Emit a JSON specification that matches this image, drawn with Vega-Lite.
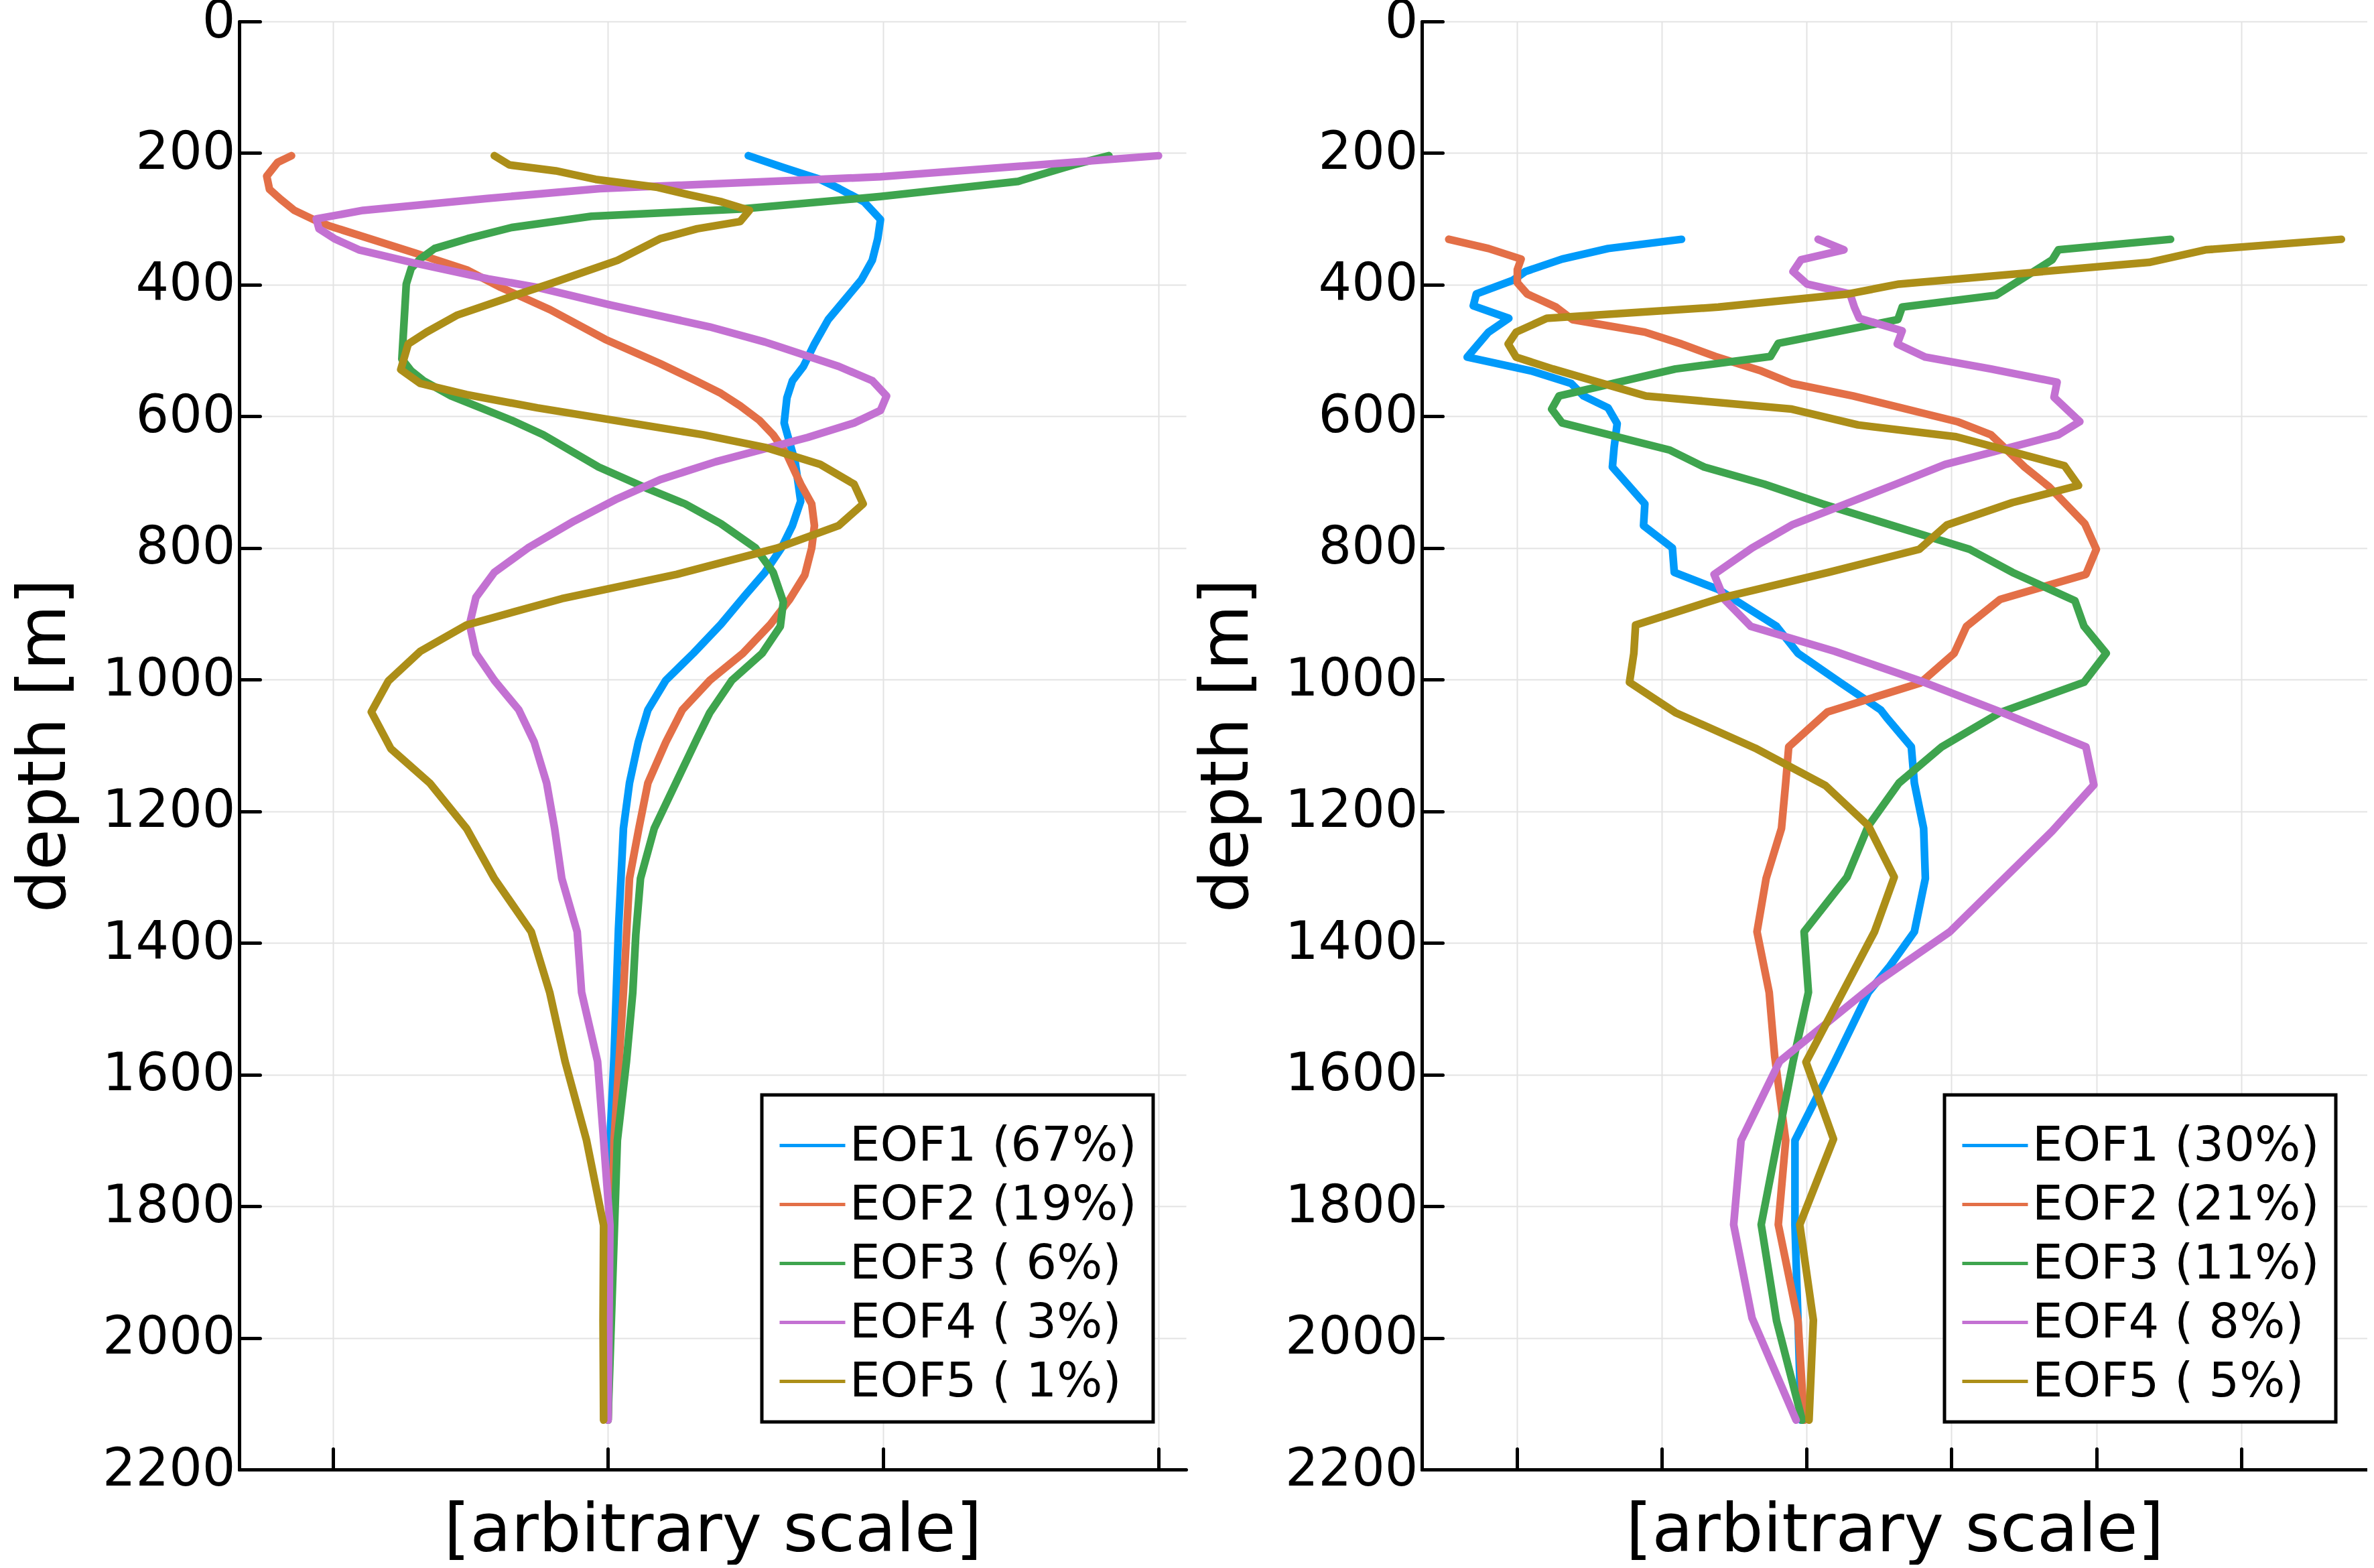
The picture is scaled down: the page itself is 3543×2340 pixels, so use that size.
{
  "$schema": "https://vega.github.io/schema/vega-lite/v6.json",
  "padding": {"left": 16, "top": -7, "right": 0, "bottom": 0},
  "config": {
    "font": "DejaVu Sans",
    "view": {"stroke": null},
    "axis": {
      "domainColor": "black", "domainWidth": 5, "domainCap": "round",
      "tickColor": "black", "tickWidth": 5, "tickSize": -31, "tickCap": "round",
      "gridColor": "#e3e3e3", "gridWidth": 2,
      "labelFont": "DejaVu Sans", "labelFontSize": 78, "labelColor": "black", "labelPadding": 37, "labelLimit": 500,
      "titleFont": "DejaVu Sans", "titleFontSize": 100, "titleFontWeight": "normal", "titleColor": "black"
    },
    "legend": {
      "orient": "none", "legendX": 780, "legendY": 1602,
      "strokeColor": "black", "strokeWidth": 5, "fillColor": "white", "cornerRadius": 0,
      "padding": 24, "symbolType": "stroke", "symbolSize": 9604, "symbolStrokeWidth": 5,
      "labelFont": "DejaVu Sans", "labelFontSize": 72, "labelColor": "black", "labelOffset": 4,
      "rowPadding": -22, "labelLimit": 800
    }
  },
  "datasets": {
    "eof": [
      {"p": "L", "s": "EOF1 (67%)", "v": 0.51, "d": 204},
      {"p": "L", "s": "EOF1 (67%)", "v": 0.637, "d": 222},
      {"p": "L", "s": "EOF1 (67%)", "v": 0.771, "d": 240},
      {"p": "L", "s": "EOF1 (67%)", "v": 0.84, "d": 254},
      {"p": "L", "s": "EOF1 (67%)", "v": 0.93, "d": 274},
      {"p": "L", "s": "EOF1 (67%)", "v": 0.99, "d": 301},
      {"p": "L", "s": "EOF1 (67%)", "v": 0.98, "d": 330},
      {"p": "L", "s": "EOF1 (67%)", "v": 0.96, "d": 363},
      {"p": "L", "s": "EOF1 (67%)", "v": 0.92, "d": 393},
      {"p": "L", "s": "EOF1 (67%)", "v": 0.86, "d": 423},
      {"p": "L", "s": "EOF1 (67%)", "v": 0.80, "d": 453},
      {"p": "L", "s": "EOF1 (67%)", "v": 0.75, "d": 490},
      {"p": "L", "s": "EOF1 (67%)", "v": 0.71, "d": 524},
      {"p": "L", "s": "EOF1 (67%)", "v": 0.67, "d": 546},
      {"p": "L", "s": "EOF1 (67%)", "v": 0.65, "d": 572},
      {"p": "L", "s": "EOF1 (67%)", "v": 0.64, "d": 610},
      {"p": "L", "s": "EOF1 (67%)", "v": 0.66, "d": 640},
      {"p": "L", "s": "EOF1 (67%)", "v": 0.68, "d": 669},
      {"p": "L", "s": "EOF1 (67%)", "v": 0.70, "d": 729},
      {"p": "L", "s": "EOF1 (67%)", "v": 0.67, "d": 766},
      {"p": "L", "s": "EOF1 (67%)", "v": 0.63, "d": 800},
      {"p": "L", "s": "EOF1 (67%)", "v": 0.57, "d": 837},
      {"p": "L", "s": "EOF1 (67%)", "v": 0.50, "d": 871},
      {"p": "L", "s": "EOF1 (67%)", "v": 0.41, "d": 916},
      {"p": "L", "s": "EOF1 (67%)", "v": 0.31, "d": 960},
      {"p": "L", "s": "EOF1 (67%)", "v": 0.21, "d": 1001},
      {"p": "L", "s": "EOF1 (67%)", "v": 0.145, "d": 1046},
      {"p": "L", "s": "EOF1 (67%)", "v": 0.11, "d": 1095},
      {"p": "L", "s": "EOF1 (67%)", "v": 0.078, "d": 1157},
      {"p": "L", "s": "EOF1 (67%)", "v": 0.056, "d": 1226},
      {"p": "L", "s": "EOF1 (67%)", "v": 0.038, "d": 1379},
      {"p": "L", "s": "EOF1 (67%)", "v": 0.022, "d": 1572},
      {"p": "L", "s": "EOF1 (67%)", "v": 0.007, "d": 1700},
      {"p": "L", "s": "EOF1 (67%)", "v": 0.0, "d": 2125},

      {"p": "L", "s": "EOF2 (19%)", "v": -1.15, "d": 204},
      {"p": "L", "s": "EOF2 (19%)", "v": -1.20, "d": 214},
      {"p": "L", "s": "EOF2 (19%)", "v": -1.24, "d": 235},
      {"p": "L", "s": "EOF2 (19%)", "v": -1.23, "d": 255},
      {"p": "L", "s": "EOF2 (19%)", "v": -1.19, "d": 270},
      {"p": "L", "s": "EOF2 (19%)", "v": -1.14, "d": 287},
      {"p": "L", "s": "EOF2 (19%)", "v": -1.07, "d": 301},
      {"p": "L", "s": "EOF2 (19%)", "v": -1.01, "d": 311},
      {"p": "L", "s": "EOF2 (19%)", "v": -0.70, "d": 352},
      {"p": "L", "s": "EOF2 (19%)", "v": -0.51, "d": 378},
      {"p": "L", "s": "EOF2 (19%)", "v": -0.39, "d": 404},
      {"p": "L", "s": "EOF2 (19%)", "v": -0.21, "d": 438},
      {"p": "L", "s": "EOF2 (19%)", "v": -0.01, "d": 483},
      {"p": "L", "s": "EOF2 (19%)", "v": 0.19, "d": 520},
      {"p": "L", "s": "EOF2 (19%)", "v": 0.32, "d": 546},
      {"p": "L", "s": "EOF2 (19%)", "v": 0.41, "d": 565},
      {"p": "L", "s": "EOF2 (19%)", "v": 0.48, "d": 584},
      {"p": "L", "s": "EOF2 (19%)", "v": 0.55, "d": 606},
      {"p": "L", "s": "EOF2 (19%)", "v": 0.60, "d": 628},
      {"p": "L", "s": "EOF2 (19%)", "v": 0.65, "d": 658},
      {"p": "L", "s": "EOF2 (19%)", "v": 0.70, "d": 703},
      {"p": "L", "s": "EOF2 (19%)", "v": 0.74, "d": 733},
      {"p": "L", "s": "EOF2 (19%)", "v": 0.75, "d": 766},
      {"p": "L", "s": "EOF2 (19%)", "v": 0.74, "d": 800},
      {"p": "L", "s": "EOF2 (19%)", "v": 0.715, "d": 841},
      {"p": "L", "s": "EOF2 (19%)", "v": 0.66, "d": 878},
      {"p": "L", "s": "EOF2 (19%)", "v": 0.59, "d": 916},
      {"p": "L", "s": "EOF2 (19%)", "v": 0.49, "d": 960},
      {"p": "L", "s": "EOF2 (19%)", "v": 0.37, "d": 1001},
      {"p": "L", "s": "EOF2 (19%)", "v": 0.27, "d": 1046},
      {"p": "L", "s": "EOF2 (19%)", "v": 0.21, "d": 1095},
      {"p": "L", "s": "EOF2 (19%)", "v": 0.145, "d": 1157},
      {"p": "L", "s": "EOF2 (19%)", "v": 0.112, "d": 1226},
      {"p": "L", "s": "EOF2 (19%)", "v": 0.078, "d": 1302},
      {"p": "L", "s": "EOF2 (19%)", "v": 0.056, "d": 1475},
      {"p": "L", "s": "EOF2 (19%)", "v": 0.022, "d": 1700},
      {"p": "L", "s": "EOF2 (19%)", "v": 0.0, "d": 2125},

      {"p": "L", "s": "EOF3 ( 6%)", "v": 1.82, "d": 204},
      {"p": "L", "s": "EOF3 ( 6%)", "v": 1.69, "d": 218},
      {"p": "L", "s": "EOF3 ( 6%)", "v": 1.49, "d": 243},
      {"p": "L", "s": "EOF3 ( 6%)", "v": 0.99, "d": 266},
      {"p": "L", "s": "EOF3 ( 6%)", "v": 0.48, "d": 285},
      {"p": "L", "s": "EOF3 ( 6%)", "v": -0.06, "d": 296},
      {"p": "L", "s": "EOF3 ( 6%)", "v": -0.35, "d": 313},
      {"p": "L", "s": "EOF3 ( 6%)", "v": -0.51, "d": 330},
      {"p": "L", "s": "EOF3 ( 6%)", "v": -0.63, "d": 345},
      {"p": "L", "s": "EOF3 ( 6%)", "v": -0.68, "d": 360},
      {"p": "L", "s": "EOF3 ( 6%)", "v": -0.715, "d": 375},
      {"p": "L", "s": "EOF3 ( 6%)", "v": -0.733, "d": 399},
      {"p": "L", "s": "EOF3 ( 6%)", "v": -0.749, "d": 513},
      {"p": "L", "s": "EOF3 ( 6%)", "v": -0.715, "d": 531},
      {"p": "L", "s": "EOF3 ( 6%)", "v": -0.67, "d": 546},
      {"p": "L", "s": "EOF3 ( 6%)", "v": -0.57, "d": 569},
      {"p": "L", "s": "EOF3 ( 6%)", "v": -0.35, "d": 606},
      {"p": "L", "s": "EOF3 ( 6%)", "v": -0.235, "d": 628},
      {"p": "L", "s": "EOF3 ( 6%)", "v": -0.034, "d": 677},
      {"p": "L", "s": "EOF3 ( 6%)", "v": 0.145, "d": 710},
      {"p": "L", "s": "EOF3 ( 6%)", "v": 0.28, "d": 733},
      {"p": "L", "s": "EOF3 ( 6%)", "v": 0.41, "d": 763},
      {"p": "L", "s": "EOF3 ( 6%)", "v": 0.536, "d": 800},
      {"p": "L", "s": "EOF3 ( 6%)", "v": 0.60, "d": 837},
      {"p": "L", "s": "EOF3 ( 6%)", "v": 0.637, "d": 882},
      {"p": "L", "s": "EOF3 ( 6%)", "v": 0.626, "d": 919},
      {"p": "L", "s": "EOF3 ( 6%)", "v": 0.56, "d": 960},
      {"p": "L", "s": "EOF3 ( 6%)", "v": 0.45, "d": 1001},
      {"p": "L", "s": "EOF3 ( 6%)", "v": 0.37, "d": 1050},
      {"p": "L", "s": "EOF3 ( 6%)", "v": 0.324, "d": 1089},
      {"p": "L", "s": "EOF3 ( 6%)", "v": 0.168, "d": 1226},
      {"p": "L", "s": "EOF3 ( 6%)", "v": 0.118, "d": 1302},
      {"p": "L", "s": "EOF3 ( 6%)", "v": 0.101, "d": 1387},
      {"p": "L", "s": "EOF3 ( 6%)", "v": 0.09, "d": 1475},
      {"p": "L", "s": "EOF3 ( 6%)", "v": 0.067, "d": 1580},
      {"p": "L", "s": "EOF3 ( 6%)", "v": 0.034, "d": 1700},
      {"p": "L", "s": "EOF3 ( 6%)", "v": 0.0, "d": 2125},

      {"p": "L", "s": "EOF4 ( 3%)", "v": 2.0, "d": 204},
      {"p": "L", "s": "EOF4 ( 3%)", "v": 0.99, "d": 236},
      {"p": "L", "s": "EOF4 ( 3%)", "v": -0.03, "d": 254},
      {"p": "L", "s": "EOF4 ( 3%)", "v": -0.44, "d": 269},
      {"p": "L", "s": "EOF4 ( 3%)", "v": -0.89, "d": 287},
      {"p": "L", "s": "EOF4 ( 3%)", "v": -1.06, "d": 300},
      {"p": "L", "s": "EOF4 ( 3%)", "v": -1.05, "d": 315},
      {"p": "L", "s": "EOF4 ( 3%)", "v": -0.994, "d": 330},
      {"p": "L", "s": "EOF4 ( 3%)", "v": -0.905, "d": 347},
      {"p": "L", "s": "EOF4 ( 3%)", "v": -0.704, "d": 367},
      {"p": "L", "s": "EOF4 ( 3%)", "v": -0.436, "d": 391},
      {"p": "L", "s": "EOF4 ( 3%)", "v": -0.257, "d": 404},
      {"p": "L", "s": "EOF4 ( 3%)", "v": 0.011, "d": 431},
      {"p": "L", "s": "EOF4 ( 3%)", "v": 0.369, "d": 464},
      {"p": "L", "s": "EOF4 ( 3%)", "v": 0.57, "d": 487},
      {"p": "L", "s": "EOF4 ( 3%)", "v": 0.838, "d": 524},
      {"p": "L", "s": "EOF4 ( 3%)", "v": 0.961, "d": 546},
      {"p": "L", "s": "EOF4 ( 3%)", "v": 1.012, "d": 569},
      {"p": "L", "s": "EOF4 ( 3%)", "v": 0.99, "d": 591},
      {"p": "L", "s": "EOF4 ( 3%)", "v": 0.894, "d": 610},
      {"p": "L", "s": "EOF4 ( 3%)", "v": 0.726, "d": 632},
      {"p": "L", "s": "EOF4 ( 3%)", "v": 0.391, "d": 669},
      {"p": "L", "s": "EOF4 ( 3%)", "v": 0.19, "d": 696},
      {"p": "L", "s": "EOF4 ( 3%)", "v": 0.034, "d": 725},
      {"p": "L", "s": "EOF4 ( 3%)", "v": -0.123, "d": 759},
      {"p": "L", "s": "EOF4 ( 3%)", "v": -0.291, "d": 800},
      {"p": "L", "s": "EOF4 ( 3%)", "v": -0.413, "d": 837},
      {"p": "L", "s": "EOF4 ( 3%)", "v": -0.48, "d": 875},
      {"p": "L", "s": "EOF4 ( 3%)", "v": -0.503, "d": 916},
      {"p": "L", "s": "EOF4 ( 3%)", "v": -0.48, "d": 960},
      {"p": "L", "s": "EOF4 ( 3%)", "v": -0.413, "d": 1001},
      {"p": "L", "s": "EOF4 ( 3%)", "v": -0.324, "d": 1046},
      {"p": "L", "s": "EOF4 ( 3%)", "v": -0.268, "d": 1095},
      {"p": "L", "s": "EOF4 ( 3%)", "v": -0.223, "d": 1157},
      {"p": "L", "s": "EOF4 ( 3%)", "v": -0.194, "d": 1226},
      {"p": "L", "s": "EOF4 ( 3%)", "v": -0.168, "d": 1302},
      {"p": "L", "s": "EOF4 ( 3%)", "v": -0.112, "d": 1383},
      {"p": "L", "s": "EOF4 ( 3%)", "v": -0.096, "d": 1475},
      {"p": "L", "s": "EOF4 ( 3%)", "v": -0.038, "d": 1580},
      {"p": "L", "s": "EOF4 ( 3%)", "v": -0.016, "d": 1700},
      {"p": "L", "s": "EOF4 ( 3%)", "v": 0.007, "d": 1829},
      {"p": "L", "s": "EOF4 ( 3%)", "v": 0.0, "d": 2125},

      {"p": "L", "s": "EOF5 ( 1%)", "v": -0.413, "d": 204},
      {"p": "L", "s": "EOF5 ( 1%)", "v": -0.358, "d": 218},
      {"p": "L", "s": "EOF5 ( 1%)", "v": -0.19, "d": 227},
      {"p": "L", "s": "EOF5 ( 1%)", "v": -0.045, "d": 240},
      {"p": "L", "s": "EOF5 ( 1%)", "v": 0.18, "d": 252},
      {"p": "L", "s": "EOF5 ( 1%)", "v": 0.291, "d": 263},
      {"p": "L", "s": "EOF5 ( 1%)", "v": 0.413, "d": 274},
      {"p": "L", "s": "EOF5 ( 1%)", "v": 0.514, "d": 287},
      {"p": "L", "s": "EOF5 ( 1%)", "v": 0.48, "d": 304},
      {"p": "L", "s": "EOF5 ( 1%)", "v": 0.324, "d": 315},
      {"p": "L", "s": "EOF5 ( 1%)", "v": 0.19, "d": 330},
      {"p": "L", "s": "EOF5 ( 1%)", "v": 0.034, "d": 363},
      {"p": "L", "s": "EOF5 ( 1%)", "v": -0.2, "d": 397},
      {"p": "L", "s": "EOF5 ( 1%)", "v": -0.33, "d": 415},
      {"p": "L", "s": "EOF5 ( 1%)", "v": -0.547, "d": 446},
      {"p": "L", "s": "EOF5 ( 1%)", "v": -0.659, "d": 472},
      {"p": "L", "s": "EOF5 ( 1%)", "v": -0.726, "d": 490},
      {"p": "L", "s": "EOF5 ( 1%)", "v": -0.753, "d": 529},
      {"p": "L", "s": "EOF5 ( 1%)", "v": -0.682, "d": 550},
      {"p": "L", "s": "EOF5 ( 1%)", "v": -0.514, "d": 567},
      {"p": "L", "s": "EOF5 ( 1%)", "v": -0.257, "d": 587},
      {"p": "L", "s": "EOF5 ( 1%)", "v": 0.346, "d": 628},
      {"p": "L", "s": "EOF5 ( 1%)", "v": 0.57, "d": 647},
      {"p": "L", "s": "EOF5 ( 1%)", "v": 0.771, "d": 673},
      {"p": "L", "s": "EOF5 ( 1%)", "v": 0.894, "d": 703},
      {"p": "L", "s": "EOF5 ( 1%)", "v": 0.927, "d": 733},
      {"p": "L", "s": "EOF5 ( 1%)", "v": 0.838, "d": 766},
      {"p": "L", "s": "EOF5 ( 1%)", "v": 0.615, "d": 800},
      {"p": "L", "s": "EOF5 ( 1%)", "v": 0.25, "d": 840},
      {"p": "L", "s": "EOF5 ( 1%)", "v": -0.168, "d": 877},
      {"p": "L", "s": "EOF5 ( 1%)", "v": -0.514, "d": 917},
      {"p": "L", "s": "EOF5 ( 1%)", "v": -0.682, "d": 957},
      {"p": "L", "s": "EOF5 ( 1%)", "v": -0.798, "d": 1002},
      {"p": "L", "s": "EOF5 ( 1%)", "v": -0.86, "d": 1049},
      {"p": "L", "s": "EOF5 ( 1%)", "v": -0.789, "d": 1105},
      {"p": "L", "s": "EOF5 ( 1%)", "v": -0.648, "d": 1157},
      {"p": "L", "s": "EOF5 ( 1%)", "v": -0.514, "d": 1226},
      {"p": "L", "s": "EOF5 ( 1%)", "v": -0.413, "d": 1302},
      {"p": "L", "s": "EOF5 ( 1%)", "v": -0.279, "d": 1383},
      {"p": "L", "s": "EOF5 ( 1%)", "v": -0.212, "d": 1475},
      {"p": "L", "s": "EOF5 ( 1%)", "v": -0.156, "d": 1580},
      {"p": "L", "s": "EOF5 ( 1%)", "v": -0.078, "d": 1700},
      {"p": "L", "s": "EOF5 ( 1%)", "v": -0.016, "d": 1829},
      {"p": "L", "s": "EOF5 ( 1%)", "v": -0.018, "d": 1974},
      {"p": "L", "s": "EOF5 ( 1%)", "v": -0.016, "d": 2125},

      {"p": "R", "s": "EOF1 (30%)", "v": -0.863, "d": 331},
      {"p": "R", "s": "EOF1 (30%)", "v": -1.37, "d": 345},
      {"p": "R", "s": "EOF1 (30%)", "v": -1.687, "d": 361},
      {"p": "R", "s": "EOF1 (30%)", "v": -1.941, "d": 380},
      {"p": "R", "s": "EOF1 (30%)", "v": -2.025, "d": 393},
      {"p": "R", "s": "EOF1 (30%)", "v": -2.279, "d": 414},
      {"p": "R", "s": "EOF1 (30%)", "v": -2.30, "d": 432},
      {"p": "R", "s": "EOF1 (30%)", "v": -2.055, "d": 451},
      {"p": "R", "s": "EOF1 (30%)", "v": -2.195, "d": 472},
      {"p": "R", "s": "EOF1 (30%)", "v": -2.342, "d": 510},
      {"p": "R", "s": "EOF1 (30%)", "v": -1.899, "d": 531},
      {"p": "R", "s": "EOF1 (30%)", "v": -1.624, "d": 550},
      {"p": "R", "s": "EOF1 (30%)", "v": -1.539, "d": 569},
      {"p": "R", "s": "EOF1 (30%)", "v": -1.37, "d": 587},
      {"p": "R", "s": "EOF1 (30%)", "v": -1.307, "d": 611},
      {"p": "R", "s": "EOF1 (30%)", "v": -1.328, "d": 647},
      {"p": "R", "s": "EOF1 (30%)", "v": -1.34, "d": 677},
      {"p": "R", "s": "EOF1 (30%)", "v": -1.116, "d": 733},
      {"p": "R", "s": "EOF1 (30%)", "v": -1.125, "d": 766},
      {"p": "R", "s": "EOF1 (30%)", "v": -0.926, "d": 800},
      {"p": "R", "s": "EOF1 (30%)", "v": -0.913, "d": 837},
      {"p": "R", "s": "EOF1 (30%)", "v": -0.609, "d": 863},
      {"p": "R", "s": "EOF1 (30%)", "v": -0.207, "d": 919},
      {"p": "R", "s": "EOF1 (30%)", "v": -0.059, "d": 960},
      {"p": "R", "s": "EOF1 (30%)", "v": 0.237, "d": 1005},
      {"p": "R", "s": "EOF1 (30%)", "v": 0.512, "d": 1046},
      {"p": "R", "s": "EOF1 (30%)", "v": 0.554, "d": 1058},
      {"p": "R", "s": "EOF1 (30%)", "v": 0.723, "d": 1102},
      {"p": "R", "s": "EOF1 (30%)", "v": 0.744, "d": 1157},
      {"p": "R", "s": "EOF1 (30%)", "v": 0.808, "d": 1226},
      {"p": "R", "s": "EOF1 (30%)", "v": 0.82, "d": 1302},
      {"p": "R", "s": "EOF1 (30%)", "v": 0.744, "d": 1383},
      {"p": "R", "s": "EOF1 (30%)", "v": 0.575, "d": 1435},
      {"p": "R", "s": "EOF1 (30%)", "v": 0.427, "d": 1475},
      {"p": "R", "s": "EOF1 (30%)", "v": 0.195, "d": 1580},
      {"p": "R", "s": "EOF1 (30%)", "v": -0.08, "d": 1700},
      {"p": "R", "s": "EOF1 (30%)", "v": -0.08, "d": 1829},
      {"p": "R", "s": "EOF1 (30%)", "v": -0.059, "d": 1974},
      {"p": "R", "s": "EOF1 (30%)", "v": -0.038, "d": 2125},

      {"p": "R", "s": "EOF2 (21%)", "v": -2.469, "d": 331},
      {"p": "R", "s": "EOF2 (21%)", "v": -2.195, "d": 345},
      {"p": "R", "s": "EOF2 (21%)", "v": -1.97, "d": 361},
      {"p": "R", "s": "EOF2 (21%)", "v": -1.996, "d": 377},
      {"p": "R", "s": "EOF2 (21%)", "v": -1.996, "d": 397},
      {"p": "R", "s": "EOF2 (21%)", "v": -1.928, "d": 414},
      {"p": "R", "s": "EOF2 (21%)", "v": -1.729, "d": 434},
      {"p": "R", "s": "EOF2 (21%)", "v": -1.615, "d": 453},
      {"p": "R", "s": "EOF2 (21%)", "v": -1.116, "d": 472},
      {"p": "R", "s": "EOF2 (21%)", "v": -0.863, "d": 490},
      {"p": "R", "s": "EOF2 (21%)", "v": -0.63, "d": 509},
      {"p": "R", "s": "EOF2 (21%)", "v": -0.313, "d": 531},
      {"p": "R", "s": "EOF2 (21%)", "v": -0.101, "d": 550},
      {"p": "R", "s": "EOF2 (21%)", "v": 0.321, "d": 569},
      {"p": "R", "s": "EOF2 (21%)", "v": 1.04, "d": 608},
      {"p": "R", "s": "EOF2 (21%)", "v": 1.273, "d": 628},
      {"p": "R", "s": "EOF2 (21%)", "v": 1.505, "d": 677},
      {"p": "R", "s": "EOF2 (21%)", "v": 1.674, "d": 707},
      {"p": "R", "s": "EOF2 (21%)", "v": 1.92, "d": 763},
      {"p": "R", "s": "EOF2 (21%)", "v": 2.0, "d": 802},
      {"p": "R", "s": "EOF2 (21%)", "v": 1.928, "d": 840},
      {"p": "R", "s": "EOF2 (21%)", "v": 1.336, "d": 878},
      {"p": "R", "s": "EOF2 (21%)", "v": 1.104, "d": 919},
      {"p": "R", "s": "EOF2 (21%)", "v": 1.019, "d": 960},
      {"p": "R", "s": "EOF2 (21%)", "v": 0.786, "d": 1005},
      {"p": "R", "s": "EOF2 (21%)", "v": 0.144, "d": 1049},
      {"p": "R", "s": "EOF2 (21%)", "v": -0.123, "d": 1102},
      {"p": "R", "s": "EOF2 (21%)", "v": -0.144, "d": 1157},
      {"p": "R", "s": "EOF2 (21%)", "v": -0.173, "d": 1226},
      {"p": "R", "s": "EOF2 (21%)", "v": -0.279, "d": 1302},
      {"p": "R", "s": "EOF2 (21%)", "v": -0.342, "d": 1383},
      {"p": "R", "s": "EOF2 (21%)", "v": -0.258, "d": 1475},
      {"p": "R", "s": "EOF2 (21%)", "v": -0.22, "d": 1572},
      {"p": "R", "s": "EOF2 (21%)", "v": -0.144, "d": 1700},
      {"p": "R", "s": "EOF2 (21%)", "v": -0.195, "d": 1828},
      {"p": "R", "s": "EOF2 (21%)", "v": -0.059, "d": 1974},
      {"p": "R", "s": "EOF2 (21%)", "v": -0.017, "d": 2125},

      {"p": "R", "s": "EOF3 (11%)", "v": 2.512, "d": 331},
      {"p": "R", "s": "EOF3 (11%)", "v": 1.738, "d": 347},
      {"p": "R", "s": "EOF3 (11%)", "v": 1.696, "d": 362},
      {"p": "R", "s": "EOF3 (11%)", "v": 1.307, "d": 416},
      {"p": "R", "s": "EOF3 (11%)", "v": 0.66, "d": 434},
      {"p": "R", "s": "EOF3 (11%)", "v": 0.63, "d": 453},
      {"p": "R", "s": "EOF3 (11%)", "v": 0.195, "d": 472},
      {"p": "R", "s": "EOF3 (11%)", "v": -0.195, "d": 489},
      {"p": "R", "s": "EOF3 (11%)", "v": -0.249, "d": 509},
      {"p": "R", "s": "EOF3 (11%)", "v": -0.905, "d": 528},
      {"p": "R", "s": "EOF3 (11%)", "v": -1.708, "d": 569},
      {"p": "R", "s": "EOF3 (11%)", "v": -1.759, "d": 589},
      {"p": "R", "s": "EOF3 (11%)", "v": -1.687, "d": 610},
      {"p": "R", "s": "EOF3 (11%)", "v": -0.947, "d": 651},
      {"p": "R", "s": "EOF3 (11%)", "v": -0.706, "d": 677},
      {"p": "R", "s": "EOF3 (11%)", "v": -0.292, "d": 703},
      {"p": "R", "s": "EOF3 (11%)", "v": 0.11, "d": 733},
      {"p": "R", "s": "EOF3 (11%)", "v": 1.125, "d": 802},
      {"p": "R", "s": "EOF3 (11%)", "v": 1.421, "d": 837},
      {"p": "R", "s": "EOF3 (11%)", "v": 1.852, "d": 880},
      {"p": "R", "s": "EOF3 (11%)", "v": 1.915, "d": 919},
      {"p": "R", "s": "EOF3 (11%)", "v": 2.068, "d": 960},
      {"p": "R", "s": "EOF3 (11%)", "v": 1.915, "d": 1004},
      {"p": "R", "s": "EOF3 (11%)", "v": 1.336, "d": 1050},
      {"p": "R", "s": "EOF3 (11%)", "v": 0.934, "d": 1102},
      {"p": "R", "s": "EOF3 (11%)", "v": 0.638, "d": 1157},
      {"p": "R", "s": "EOF3 (11%)", "v": 0.427, "d": 1222},
      {"p": "R", "s": "EOF3 (11%)", "v": 0.279, "d": 1300},
      {"p": "R", "s": "EOF3 (11%)", "v": -0.017, "d": 1383},
      {"p": "R", "s": "EOF3 (11%)", "v": 0.013, "d": 1475},
      {"p": "R", "s": "EOF3 (11%)", "v": -0.093, "d": 1580},
      {"p": "R", "s": "EOF3 (11%)", "v": -0.2, "d": 1700},
      {"p": "R", "s": "EOF3 (11%)", "v": -0.313, "d": 1828},
      {"p": "R", "s": "EOF3 (11%)", "v": -0.207, "d": 1974},
      {"p": "R", "s": "EOF3 (11%)", "v": -0.03, "d": 2125},

      {"p": "R", "s": "EOF4 ( 8%)", "v": 0.08, "d": 331},
      {"p": "R", "s": "EOF4 ( 8%)", "v": 0.258, "d": 347},
      {"p": "R", "s": "EOF4 ( 8%)", "v": -0.038, "d": 362},
      {"p": "R", "s": "EOF4 ( 8%)", "v": -0.093, "d": 380},
      {"p": "R", "s": "EOF4 ( 8%)", "v": 0.004, "d": 399},
      {"p": "R", "s": "EOF4 ( 8%)", "v": 0.3, "d": 414},
      {"p": "R", "s": "EOF4 ( 8%)", "v": 0.33, "d": 434},
      {"p": "R", "s": "EOF4 ( 8%)", "v": 0.364, "d": 451},
      {"p": "R", "s": "EOF4 ( 8%)", "v": 0.66, "d": 470},
      {"p": "R", "s": "EOF4 ( 8%)", "v": 0.626, "d": 490},
      {"p": "R", "s": "EOF4 ( 8%)", "v": 0.82, "d": 510},
      {"p": "R", "s": "EOF4 ( 8%)", "v": 1.273, "d": 528},
      {"p": "R", "s": "EOF4 ( 8%)", "v": 1.729, "d": 548},
      {"p": "R", "s": "EOF4 ( 8%)", "v": 1.708, "d": 571},
      {"p": "R", "s": "EOF4 ( 8%)", "v": 1.886, "d": 608},
      {"p": "R", "s": "EOF4 ( 8%)", "v": 1.738, "d": 628},
      {"p": "R", "s": "EOF4 ( 8%)", "v": 0.956, "d": 673},
      {"p": "R", "s": "EOF4 ( 8%)", "v": 0.617, "d": 703},
      {"p": "R", "s": "EOF4 ( 8%)", "v": 0.27, "d": 733},
      {"p": "R", "s": "EOF4 ( 8%)", "v": -0.101, "d": 765},
      {"p": "R", "s": "EOF4 ( 8%)", "v": -0.376, "d": 800},
      {"p": "R", "s": "EOF4 ( 8%)", "v": -0.638, "d": 840},
      {"p": "R", "s": "EOF4 ( 8%)", "v": -0.567, "d": 878},
      {"p": "R", "s": "EOF4 ( 8%)", "v": -0.385, "d": 919},
      {"p": "R", "s": "EOF4 ( 8%)", "v": 0.195, "d": 957},
      {"p": "R", "s": "EOF4 ( 8%)", "v": 0.786, "d": 1002},
      {"p": "R", "s": "EOF4 ( 8%)", "v": 1.35, "d": 1050},
      {"p": "R", "s": "EOF4 ( 8%)", "v": 1.928, "d": 1102},
      {"p": "R", "s": "EOF4 ( 8%)", "v": 1.983, "d": 1160},
      {"p": "R", "s": "EOF4 ( 8%)", "v": 1.696, "d": 1230},
      {"p": "R", "s": "EOF4 ( 8%)", "v": 0.989, "d": 1383},
      {"p": "R", "s": "EOF4 ( 8%)", "v": 0.49, "d": 1459},
      {"p": "R", "s": "EOF4 ( 8%)", "v": -0.186, "d": 1580},
      {"p": "R", "s": "EOF4 ( 8%)", "v": -0.452, "d": 1700},
      {"p": "R", "s": "EOF4 ( 8%)", "v": -0.503, "d": 1828},
      {"p": "R", "s": "EOF4 ( 8%)", "v": -0.376, "d": 1970},
      {"p": "R", "s": "EOF4 ( 8%)", "v": -0.072, "d": 2125},

      {"p": "R", "s": "EOF5 ( 5%)", "v": 3.691, "d": 331},
      {"p": "R", "s": "EOF5 ( 5%)", "v": 2.753, "d": 347},
      {"p": "R", "s": "EOF5 ( 5%)", "v": 2.364, "d": 366},
      {"p": "R", "s": "EOF5 ( 5%)", "v": 0.638, "d": 399},
      {"p": "R", "s": "EOF5 ( 5%)", "v": 0.288, "d": 414},
      {"p": "R", "s": "EOF5 ( 5%)", "v": -0.609, "d": 434},
      {"p": "R", "s": "EOF5 ( 5%)", "v": -1.793, "d": 451},
      {"p": "R", "s": "EOF5 ( 5%)", "v": -2.004, "d": 472},
      {"p": "R", "s": "EOF5 ( 5%)", "v": -2.059, "d": 490},
      {"p": "R", "s": "EOF5 ( 5%)", "v": -2.004, "d": 510},
      {"p": "R", "s": "EOF5 ( 5%)", "v": -1.751, "d": 528},
      {"p": "R", "s": "EOF5 ( 5%)", "v": -1.108, "d": 569},
      {"p": "R", "s": "EOF5 ( 5%)", "v": -0.101, "d": 589},
      {"p": "R", "s": "EOF5 ( 5%)", "v": 0.355, "d": 613},
      {"p": "R", "s": "EOF5 ( 5%)", "v": 1.032, "d": 631},
      {"p": "R", "s": "EOF5 ( 5%)", "v": 1.78, "d": 675},
      {"p": "R", "s": "EOF5 ( 5%)", "v": 1.877, "d": 705},
      {"p": "R", "s": "EOF5 ( 5%)", "v": 1.421, "d": 731},
      {"p": "R", "s": "EOF5 ( 5%)", "v": 0.968, "d": 765},
      {"p": "R", "s": "EOF5 ( 5%)", "v": 0.778, "d": 802},
      {"p": "R", "s": "EOF5 ( 5%)", "v": 0.152, "d": 837},
      {"p": "R", "s": "EOF5 ( 5%)", "v": -0.609, "d": 877},
      {"p": "R", "s": "EOF5 ( 5%)", "v": -1.18, "d": 917},
      {"p": "R", "s": "EOF5 ( 5%)", "v": -1.192, "d": 960},
      {"p": "R", "s": "EOF5 ( 5%)", "v": -1.222, "d": 1004},
      {"p": "R", "s": "EOF5 ( 5%)", "v": -0.905, "d": 1050},
      {"p": "R", "s": "EOF5 ( 5%)", "v": -0.355, "d": 1104},
      {"p": "R", "s": "EOF5 ( 5%)", "v": 0.131, "d": 1161},
      {"p": "R", "s": "EOF5 ( 5%)", "v": 0.427, "d": 1222},
      {"p": "R", "s": "EOF5 ( 5%)", "v": 0.605, "d": 1300},
      {"p": "R", "s": "EOF5 ( 5%)", "v": 0.469, "d": 1383},
      {"p": "R", "s": "EOF5 ( 5%)", "v": -0.004, "d": 1581},
      {"p": "R", "s": "EOF5 ( 5%)", "v": 0.186, "d": 1698},
      {"p": "R", "s": "EOF5 ( 5%)", "v": -0.047, "d": 1828},
      {"p": "R", "s": "EOF5 ( 5%)", "v": 0.047, "d": 1973},
      {"p": "R", "s": "EOF5 ( 5%)", "v": 0.017, "d": 2125}
    ]
  },
  "spacing": 11,
  "resolve": {"scale": {"color": "independent", "x": "independent"}, "legend": {"color": "independent"}},
  "hconcat": [
    {
      "width": 1413, "height": 2161,
      "data": {"name": "eof"},
      "transform": [{"filter": "datum.p == 'L'"}],
      "mark": {"type": "line", "strokeWidth": 11.5, "strokeCap": "round", "strokeJoin": "round"},
      "encoding": {
        "x": {"field": "v", "type": "quantitative",
              "scale": {"domain": [-1.34, 2.1], "nice": false, "zero": false},
              "axis": {"values": [-1, 0, 1, 2], "labels": false, "title": "[arbitrary scale]", "titlePadding": 40}},
        "y": {"field": "d", "type": "quantitative",
              "scale": {"domain": [0, 2200], "reverse": true, "nice": false},
              "axis": {"values": [0, 200, 400, 600, 800, 1000, 1200, 1400, 1600, 1800, 2000, 2200], "format": "d", "title": "depth [m]", "titlePadding": 40}},
        "color": {"field": "s", "type": "nominal",
                  "scale": {"domain": ["EOF1 (67%)", "EOF2 (19%)", "EOF3 ( 6%)", "EOF4 ( 3%)", "EOF5 ( 1%)"],
                            "range": ["#009AFA", "#E36F47", "#3EA44E", "#C371D2", "#AC8E18"]},
                  "legend": {"title": null}},
        "order": {"field": "d", "type": "quantitative"}
      }
    },
    {
      "width": 1411, "height": 2161,
      "data": {"name": "eof"},
      "transform": [{"filter": "datum.p == 'R'"}],
      "mark": {"type": "line", "strokeWidth": 11.5, "strokeCap": "round", "strokeJoin": "round"},
      "encoding": {
        "x": {"field": "v", "type": "quantitative",
              "scale": {"domain": [-2.655, 3.87], "nice": false, "zero": false},
              "axis": {"values": [-2, -1, 0, 1, 2, 3], "labels": false, "title": "[arbitrary scale]", "titlePadding": 40}},
        "y": {"field": "d", "type": "quantitative",
              "scale": {"domain": [0, 2200], "reverse": true, "nice": false},
              "axis": {"values": [0, 200, 400, 600, 800, 1000, 1200, 1400, 1600, 1800, 2000, 2200], "format": "d", "title": "depth [m]", "titlePadding": 40}},
        "color": {"field": "s", "type": "nominal",
                  "scale": {"domain": ["EOF1 (30%)", "EOF2 (21%)", "EOF3 (11%)", "EOF4 ( 8%)", "EOF5 ( 5%)"],
                            "range": ["#009AFA", "#E36F47", "#3EA44E", "#C371D2", "#AC8E18"]},
                  "legend": {"title": null}},
        "order": {"field": "d", "type": "quantitative"}
      }
    }
  ]
}
